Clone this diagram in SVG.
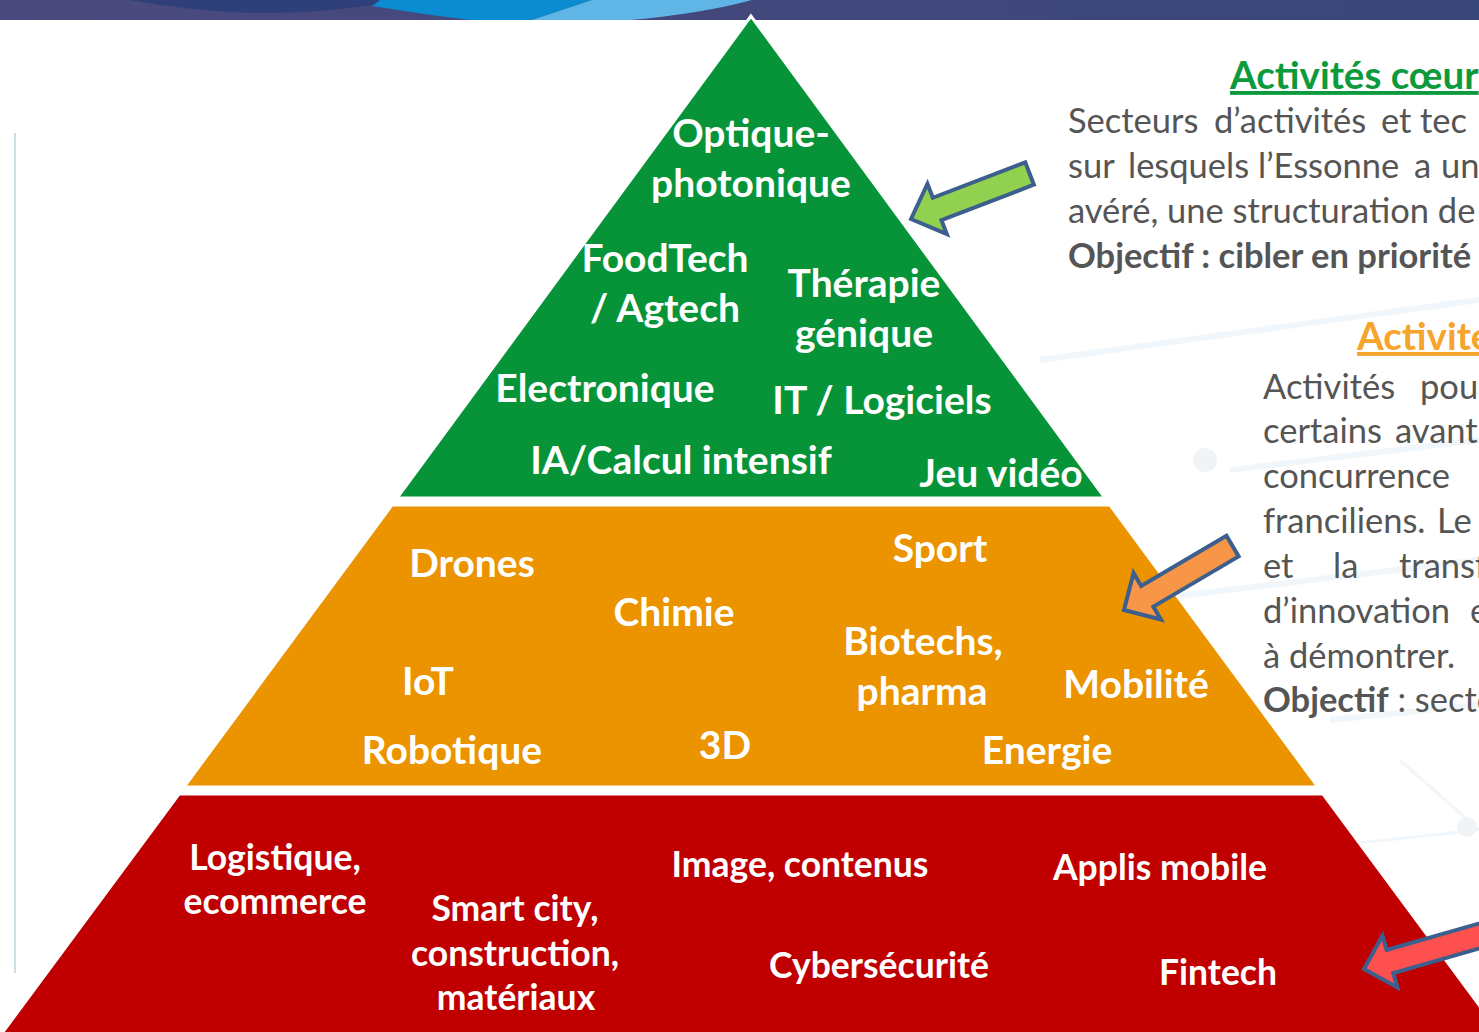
<svg xmlns="http://www.w3.org/2000/svg" width="1479" height="1032" viewBox="0 0 1479 1032">
<defs>
<linearGradient id="band" x1="0" y1="0" x2="1" y2="0">
<stop offset="0" stop-color="#4b4a7e"/>
<stop offset="1" stop-color="#394679"/>
</linearGradient>
<style>
.lbl{font-family:Lato,"Liberation Sans",sans-serif;font-weight:700;fill:#ffffff;text-anchor:middle;font-size:39px}
.lbs{font-family:Lato,"Liberation Sans",sans-serif;font-weight:700;fill:#ffffff;text-anchor:middle;font-size:35.5px}
.txt{font-family:Lato,"Liberation Sans",sans-serif;font-size:34.5px;fill:#555555}
.b{font-weight:700}
.ttl{font-family:Lato,"Liberation Sans",sans-serif;font-size:38.5px;font-weight:700;text-decoration:underline}
.tier{stroke:#ffffff;stroke-width:3;stroke-linejoin:miter}
.arrow{stroke:#3c5f8d;stroke-width:4;stroke-linejoin:miter}
.net{stroke:#e6f0f5;stroke-width:6;fill:none;opacity:0.6}
</style>
</defs>
<rect x="0" y="0" width="1479" height="1032" fill="#ffffff"/>
<g id="background-network">
<path class="net" d="M1040 360 L1479 300"/>
<path class="net" d="M1060 610 L1479 560"/>
<path class="net" d="M1230 470 L1479 440"/>
<path class="net" d="M1330 720 L1479 705"/>
<path class="net" d="M1130 820 L1200 860 L1479 830" style="stroke-width:3"/>
<path class="net" d="M1400 760 L1479 830" style="stroke-width:3"/>
<circle cx="1205" cy="460" r="12" fill="#f0f4f7"/>
<circle cx="1467" cy="827" r="10" fill="#f0f4f7"/>
</g>
<g id="banner">
<rect x="0" y="0" width="1479" height="20" fill="url(#band)"/>
<path d="M130 0 Q270 26 400 0 Z" fill="#2e3f79"/>
<path d="M380 0 L592 0 L532 20 L470 20 Q420 14 372 6 Z" fill="#0b8bd0"/>
<path d="M592 0 L752 0 Q700 14 630 20 L532 20 Z" fill="#5fb6e6"/>
</g>
<line x1="15" y1="133" x2="15" y2="973" stroke="#bdd3de" stroke-width="1.5"/>
<g id="pyramid">
<polygon id="tier-core" class="tier" points="751,16 397,498 1105,498" fill="#079439"/>
<polygon id="tier-mid" class="tier" points="392,505 1110,505 1318,787 184,787" fill="#eb9400"/>
<polygon id="tier-base" class="tier" points="179,794 1323,794 1505,1040 -3,1040" fill="#c00000"/>
</g>
<g id="label-optique"><text class="lbl" x="751" y="147">Optique-</text><text class="lbl" x="751" y="197">photonique</text></g>
<g id="label-foodtech"><text class="lbl" x="665" y="272">FoodTech</text><text class="lbl" x="665" y="322">/ Agtech</text></g>
<g id="label-therapie"><text class="lbl" x="864" y="297">Thérapie</text><text class="lbl" x="864" y="347">génique</text></g>
<g id="label-electronique"><text class="lbl" x="605" y="402">Electronique</text></g>
<g id="label-it"><text class="lbl" x="882" y="414">IT / Logiciels</text></g>
<g id="label-ia"><text class="lbl" x="681" y="474">IA/Calcul intensif</text></g>
<g id="label-jeu"><text class="lbl" x="1001" y="487">Jeu vidéo</text></g>
<g id="label-drones"><text class="lbl" x="472" y="577">Drones</text></g>
<g id="label-sport"><text class="lbl" x="940" y="562">Sport</text></g>
<g id="label-chimie"><text class="lbl" x="674" y="626">Chimie</text></g>
<g id="label-biotechs"><text class="lbl" x="923" y="655">Biotechs,</text><text class="lbl" x="922" y="705">pharma</text></g>
<g id="label-iot"><text class="lbl" x="428" y="695">IoT</text></g>
<g id="label-mobilite"><text class="lbl" x="1136" y="698">Mobilité</text></g>
<g id="label-robotique"><text class="lbl" x="452" y="764">Robotique</text></g>
<g id="label-3d"><text class="lbl" x="725" y="759">3D</text></g>
<g id="label-energie"><text class="lbl" x="1047" y="764">Energie</text></g>
<g id="label-logistique"><text class="lbs" x="275" y="870">Logistique,</text><text class="lbs" x="275" y="914">ecommerce</text></g>
<g id="label-smartcity"><text class="lbs" x="515" y="921">Smart city,</text><text class="lbs" x="515" y="966">construction,</text><text class="lbs" x="516" y="1010">matériaux</text></g>
<g id="label-image"><text class="lbs" x="800" y="877">Image, contenus</text></g>
<g id="label-applis"><text class="lbs" x="1160" y="880">Applis mobile</text></g>
<g id="label-cyber"><text class="lbs" x="879" y="978">Cybersécurité</text></g>
<g id="label-fintech"><text class="lbs" x="1218" y="985">Fintech</text></g>
<g id="connectors">
<polygon class="arrow" fill="#92d050" transform="translate(911,219) rotate(-21)" points="0,0 28,-27 28,-12 127,-12 127,12 28,12 28,27"/>
<polygon class="arrow" fill="#f79646" transform="translate(1124,610) rotate(-30.5)" points="0,0 27,-27 27,-12 126,-12 126,12 27,12 27,27"/>
<polygon class="arrow" fill="#ff5050" transform="translate(1364,969) rotate(-16)" points="0,0 27,-27 27,-12 220,-12 220,12 27,12 27,27"/>
</g>
<g id="text-core">
<text class="ttl" x="1230" y="89" fill="#0c9a3c">Activités cœur</text>
<text class="txt" y="133"><tspan x="1068">Secteurs</tspan><tspan x="1214">d’activités</tspan><tspan x="1381">et</tspan><tspan x="1420">tec</tspan></text>
<text class="txt" y="178"><tspan x="1068">sur</tspan><tspan x="1128">lesquels</tspan><tspan x="1258">l’Essonne</tspan><tspan x="1414">a</tspan><tspan x="1441">un</tspan></text>
<text class="txt" x="1068" y="223">avéré, une structuration de</text>
<text class="txt b" x="1068" y="268">Objectif : cibler en priorité</text>
</g>
<g id="text-mid">
<text class="ttl" x="1357" y="350" fill="#f5a42c">Activite</text>
<text class="txt" y="399"><tspan x="1263">Activités</tspan><tspan x="1420">pou</tspan></text>
<text class="txt" y="443"><tspan x="1263">certains</tspan><tspan x="1395">avant</tspan></text>
<text class="txt" x="1263" y="488">concurrence</text>
<text class="txt" y="533"><tspan x="1263">franciliens.</tspan><tspan x="1437">Le</tspan></text>
<text class="txt" y="578"><tspan x="1263">et</tspan><tspan x="1333">la</tspan><tspan x="1399">transf</tspan></text>
<text class="txt" y="623"><tspan x="1263">d’innovation</tspan><tspan x="1470">e</tspan></text>
<text class="txt" x="1263" y="668">à démontrer.</text>
<text class="txt" x="1263" y="712"><tspan class="b">Objectif</tspan> : secte</text>
</g>
</svg>
